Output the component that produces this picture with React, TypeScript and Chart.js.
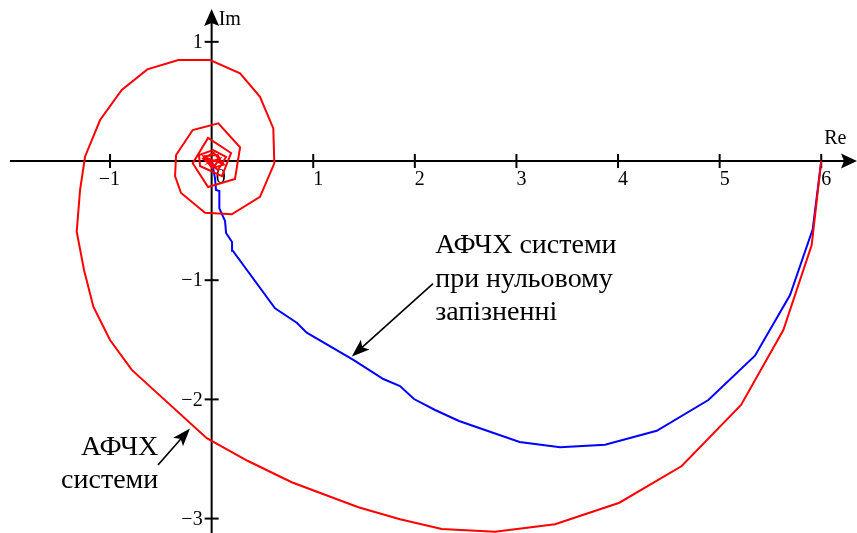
import { useEffect, useRef } from "react";
import { Chart, registerables } from "chart.js";

Chart.register(...registerables);

// Frequency response of the system with delay (red spiral), Re / Im parts
const redRe = [
  6.0, 5.906, 5.627, 5.211, 4.627, 4.013, 3.38, 2.789, 2.265, 1.854, 1.444, 0.788,
  0.358, -0.048, -0.786, -1.0, -1.164, -1.256, -1.328, -1.295, -1.246, -1.098,
  -0.885, -0.633, -0.328, -0.016, 0.28, 0.476, 0.607, 0.617, 0.476, 0.198, -0.065,
  -0.301, -0.36, -0.35, -0.186, 0.066, 0.28, 0.23, -0.035, -0.186, -0.035, 0.191,
  0.102, -0.114, -0.124, 0.014, 0.142, 0.063, -0.085, 0.02, 0.12, 0.004, -0.08,
  0.06, 0.1, -0.06, 0.03, 0.08, -0.02, 0.01,
];
const redIm = [
  0.0, -0.705, -1.418, -2.047, -2.559, -2.867, -3.048, -3.11, -3.087, -3.006, -2.905,
  -2.695, -2.517, -2.326, -1.753, -1.502, -1.222, -0.914, -0.593, -0.243, 0.036,
  0.344, 0.596, 0.769, 0.847, 0.847, 0.736, 0.539, 0.274, -0.019, -0.3, -0.447,
  -0.434, -0.268, -0.126, 0.05, 0.26, 0.316, 0.115, -0.151, -0.218, -0.019, 0.193,
  0.067, -0.126, -0.042, 0.05, 0.092, 0.034, -0.076, 0.02, 0.07, -0.03, -0.06,
  0.04, 0.05, -0.02, 0.03, -0.04, 0.02, -0.01, 0.01,
];

// Frequency response of the same system with zero delay (blue curve)
const blueRe = [
  6.0, 5.916, 5.693, 5.348, 4.889, 4.381, 3.872, 3.429, 3.031, 2.435, 2.199, 1.992,
  1.854, 1.69, 1.395, 0.936, 0.838, 0.624, 0.208, 0.201, 0.142, 0.132, 0.076, 0.076,
  0.043, 0.033, 0.014, 0.004,
];
const blueIm = [
  0.0, -0.573, -1.124, -1.633, -2.005, -2.263, -2.38, -2.402, -2.357, -2.181, -2.089,
  -1.997, -1.888, -1.829, -1.669, -1.44, -1.357, -1.236, -0.753, -0.68, -0.604,
  -0.503, -0.397, -0.252, -0.243, -0.143, -0.059, 0.008,
];

const reTicks = [-1, 1, 2, 3, 4, 5, 6];
const reTickLabels = ["−1", "1", "2", "3", "4", "5", "6"];
const imTicks = [1, -1, -2, -3];
const imTickLabels = ["1", "−1", "−2", "−3"];
const originLabel = "0";
const reAxisTitle = "Re";
const imAxisTitle = "Im";

const noteZeroDelay = ["АФЧХ системи", "при нульовому", "запізненні"];
const noteSystem = ["АФЧХ", "системи"];

const X_MIN = -2.083;
const X_MAX = 6.352;
const Y_MIN = -3.121;
const Y_MAX = 1.351;

const SERIF = "'Liberation Serif', 'Times New Roman', serif";

function zip(re: number[], im: number[]) {
  return re.map((x, i) => ({ x, y: im[i] }));
}

function arrowHead(
  ctx: CanvasRenderingContext2D,
  tipX: number,
  tipY: number,
  angle: number,
  len: number,
  half: number,
  notch: number
) {
  ctx.save();
  ctx.translate(tipX, tipY);
  ctx.rotate(angle);
  ctx.beginPath();
  ctx.moveTo(0, 0);
  ctx.lineTo(-len, -half);
  ctx.lineTo(-len + notch, 0);
  ctx.lineTo(-len, half);
  ctx.closePath();
  ctx.fill();
  ctx.restore();
}

const axesPlugin = {
  id: "complexPlaneAxes",
  beforeDatasetsDraw(chart: any) {
    const { ctx, chartArea, scales } = chart;
    const xs = scales.x;
    const ys = scales.y;
    const x0 = xs.getPixelForValue(0);
    const y0 = ys.getPixelForValue(0);
    ctx.save();
    ctx.strokeStyle = "#000";
    ctx.fillStyle = "#000";
    ctx.lineWidth = 2;

    // real axis
    ctx.beginPath();
    ctx.moveTo(chartArea.left + 10, y0);
    ctx.lineTo(chartArea.right - 8, y0);
    ctx.stroke();
    arrowHead(ctx, chartArea.right, y0, 0, 16, 7.5, 3);

    // imaginary axis
    ctx.beginPath();
    ctx.moveTo(x0, chartArea.bottom);
    ctx.lineTo(x0, chartArea.top + 18);
    ctx.stroke();
    arrowHead(ctx, x0, chartArea.top + 9, -Math.PI / 2, 17, 7.5, 3);

    // tick marks
    reTicks.forEach((v) => {
      const px = xs.getPixelForValue(v);
      ctx.beginPath();
      ctx.moveTo(px, y0 - 7);
      ctx.lineTo(px, y0 + 7);
      ctx.stroke();
    });
    imTicks.forEach((v) => {
      const py = ys.getPixelForValue(v);
      ctx.beginPath();
      ctx.moveTo(x0 - 7, py);
      ctx.lineTo(x0 + 7, py);
      ctx.stroke();
    });

    // tick labels
    ctx.font = `20px ${SERIF}`;
    ctx.textBaseline = "alphabetic";
    ctx.textAlign = "left";
    const minusW = ctx.measureText("−").width;
    reTicks.forEach((v, i) => {
      const px = xs.getPixelForValue(v);
      const label = reTickLabels[i];
      const shift = label.startsWith("−") ? minusW : 0;
      ctx.fillText(label, px - shift, y0 + 24);
    });
    ctx.fillText(originLabel, x0 + 4, y0 + 22);
    ctx.textAlign = "right";
    ctx.textBaseline = "middle";
    imTicks.forEach((v, i) => {
      const py = ys.getPixelForValue(v);
      ctx.fillText(imTickLabels[i], x0 - 9, py + 1);
    });

    // axis names
    ctx.font = `20px ${SERIF}`;
    ctx.textAlign = "left";
    ctx.textBaseline = "alphabetic";
    ctx.fillText(reAxisTitle, xs.getPixelForValue(6) + 3, y0 - 17);
    ctx.fillText(imAxisTitle, x0 + 7, chartArea.top + 25);
    ctx.restore();
  },
  afterDatasetsDraw(chart: any) {
    const { ctx, scales } = chart;
    const X = (v: number) => scales.x.getPixelForValue(v);
    const Y = (v: number) => scales.y.getPixelForValue(v);
    ctx.save();
    ctx.fillStyle = "#000";
    ctx.strokeStyle = "#000";
    ctx.font = `28px ${SERIF}`;
    ctx.textBaseline = "alphabetic";

    // note for the zero-delay curve
    ctx.textAlign = "left";
    const nx = X(2.2);
    const nBase = [-0.772, -1.057, -1.334];
    noteZeroDelay.forEach((t, i) => ctx.fillText(t, nx, Y(nBase[i])));

    // note for the system curve
    ctx.textAlign = "right";
    const sx = X(-0.525);
    const sBase = [-2.466, -2.743];
    noteSystem.forEach((t, i) => ctx.fillText(t, sx, Y(sBase[i])));

    // pointer arrows
    const pointers = [
      [2.179, -1.028, 1.38, -1.641],
      [-0.528, -2.55, -0.213, -2.244],
    ];
    ctx.lineWidth = 1.6;
    pointers.forEach(([ax, ay, bx, by]) => {
      const x1 = X(ax), y1 = Y(ay), x2 = X(bx), y2 = Y(by);
      const ang = Math.atan2(y2 - y1, x2 - x1);
      ctx.beginPath();
      ctx.moveTo(x1, y1);
      ctx.lineTo(x2 - Math.cos(ang) * 10, y2 - Math.sin(ang) * 10);
      ctx.stroke();
      arrowHead(ctx, x2, y2, ang, 18, 6.5, 4);
    });
    ctx.restore();
  },
};

export default function App() {
  const canvasRef = useRef<HTMLCanvasElement | null>(null);

  useEffect(() => {
    if (!canvasRef.current) return;
    const chart = new Chart(canvasRef.current, {
      type: "scatter",
      data: {
        datasets: [
          {
            label: "АФЧХ системи",
            data: zip(redRe, redIm),
            showLine: true,
            borderColor: "#ff0000",
            backgroundColor: "#ff0000",
            borderWidth: 2,
            pointRadius: 0,
            tension: 0,
          },
          {
            label: "АФЧХ системи при нульовому запізненні",
            data: zip(blueRe, blueIm),
            showLine: true,
            borderColor: "#0000ff",
            backgroundColor: "#0000ff",
            borderWidth: 2,
            pointRadius: 0,
            tension: 0,
          },
        ],
      },
      options: {
        responsive: false,
        animation: false,
        layout: { padding: 0 },
        plugins: {
          legend: { display: false },
          tooltip: { enabled: false },
        },
        scales: {
          x: { type: "linear", min: X_MIN, max: X_MAX, display: false },
          y: { type: "linear", min: Y_MIN, max: Y_MAX, display: false },
        },
      },
      plugins: [axesPlugin],
    });
    return () => chart.destroy();
  }, []);

  return (
    <div style={{ position: "absolute", left: 0, top: 0, width: 857, height: 533, background: "#fff" }}>
      <canvas ref={canvasRef} width={857} height={533} style={{ display: "block" }} />
    </div>
  );
}
